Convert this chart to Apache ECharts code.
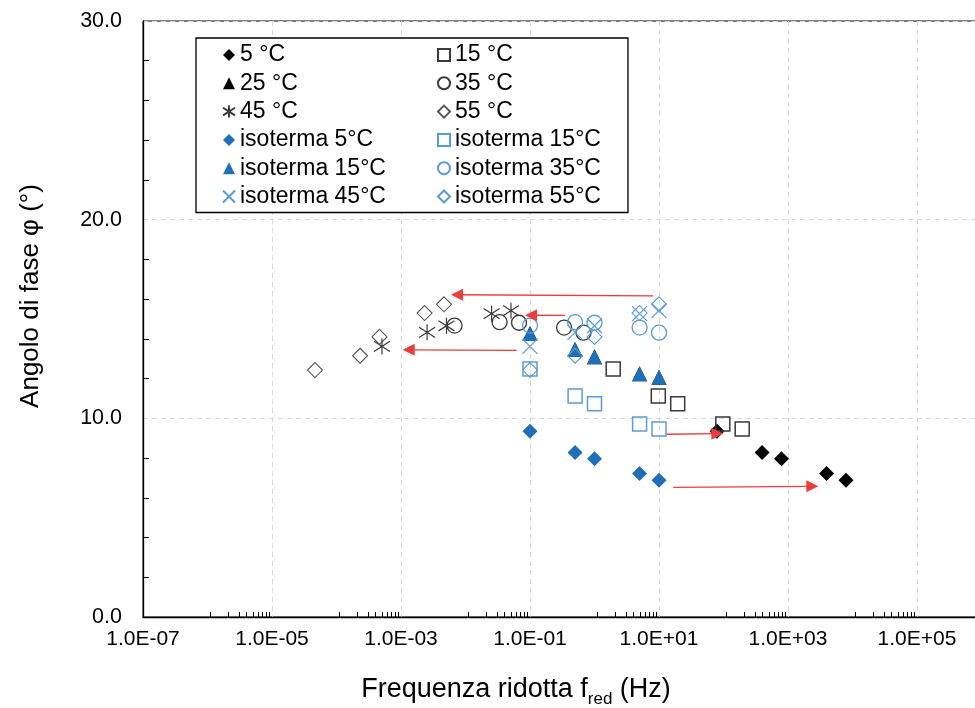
<!DOCTYPE html>
<html><head><meta charset="utf-8">
<script src="https://cdn.jsdelivr.net/npm/echarts@6/dist/echarts.min.js"></script>
<style>html,body{margin:0;padding:0;background:#fff}#c{width:975px;height:708px}</style>
</head><body><div id="c"></div>
<script>
const FONT = '"Liberation Sans", Arial, sans-serif';

// Isotherm test frequencies (Hz)
const isoFreq = [0.1, 0.5, 1, 5, 10];
// Reduced frequencies (master curve), Hz
const fred5  = [79.3, 396, 793, 3965, 7930];
const fred15 = [1.95, 9.75, 19.5, 97.5, 195];
const fred25 = [0.1, 0.5, 1, 5, 10];
const fred35 = [0.00676, 0.0338, 0.0676, 0.338, 0.676];
const fred45 = [0.000507, 0.00254, 0.00507, 0.0254, 0.0507];
const fred55 = [0.0000464, 0.000232, 0.000464, 0.00232, 0.00464];
// Phase angle (deg)
const phase5  = [9.35, 8.28, 7.97, 7.22, 6.88];
const phase15 = [12.48, 11.12, 10.74, 9.72, 9.46];
const phase25 = [14.27, 13.46, 13.10, 12.24, 12.07];
const phase35 = [14.67, 14.84, 14.81, 14.57, 14.31];
const phase45 = [13.62, 14.33, 14.66, 15.27, 15.42];
const phase55 = [12.43, 13.15, 14.10, 15.30, 15.74];

// Shift arrows [from, to] in data units
const arrows = [
  [[8.07, 16.16], [0.00738, 16.22]],
  [[0.349, 15.18], [0.1038, 15.19]],
  [[0.0622, 13.42], [0.001315, 13.45]],
  [[13.2, 9.20], [80.2, 9.23]],
  [[16.7, 6.52], [2383, 6.58]]
];

const yTicks = [0, 10, 20, 30];

const BLUE = '#1f6fb8';
const LBLUE = '#5b9bd5';
const DARK = '#3a3a3a';
const ASTER = 'path://M5,0L5,10M0,1.8L10,8.2M0,8.2L10,1.8';
const XMARK = 'path://M0,0L10,10M10,0L0,10';

function sc(name, xs, ys, symbol, size, itemStyle) {
  return {
    type: 'scatter', name, symbol, symbolSize: size, itemStyle,
    data: xs.map((x, i) => [x, ys[i]]),
    emphasis: { disabled: true }, silent: true
  };
}
const filled = c => ({ color: c, borderWidth: 0, opacity: 1 });
const open = (c, w) => ({ color: 'transparent', borderColor: c, borderWidth: w, opacity: 1 });

const series = [
  sc('5 °C', fred5, phase5, 'diamond', 15, filled('#000')),
  sc('15 °C', fred15, phase15, 'rect', 14, open(DARK, 1.5)),
  sc('25 °C', fred25, phase25, 'triangle', 15, filled('#000')),
  sc('35 °C', fred35, phase35, 'circle', 15, open(DARK, 1.3)),
  sc('45 °C', fred45, phase45, ASTER, 16, open(DARK, 1.2)),
  sc('55 °C', fred55, phase55, 'diamond', 15, open('#555', 1.1)),
  sc('isoterma 5°C', isoFreq, phase5, 'diamond', 15, filled(BLUE)),
  sc('isoterma 15°C', isoFreq, phase15, 'rect', 14, open(LBLUE, 1.5)),
  sc('isoterma 15°C\u200b', isoFreq, phase25, 'triangle', 15, filled(BLUE)),
  sc('isoterma 35°C', isoFreq, phase35, 'circle', 15, open(LBLUE, 1.3)),
  sc('isoterma 45°C', isoFreq, phase45, XMARK, 15, open(LBLUE, 1.2)),
  sc('isoterma 55°C', isoFreq, phase55, 'diamond', 15, open(LBLUE, 1.1)),
  {
    type: 'lines', coordinateSystem: 'cartesian2d', silent: true, z: 5,
    symbol: ['none', 'triangle'], symbolSize: [9, 12],
    lineStyle: { color: '#ee3b3b', width: 1.3, opacity: 1, curveness: 0 },
    data: arrows.map(a => ({ coords: a }))
  }
];

const legendCommon = {
  orient: 'vertical', selectedMode: false,
  itemWidth: 12, itemHeight: 12, itemGap: 5.3, itemTextGap: 6,
  textStyle: { fontSize: 23, lineHeight: 23, color: '#000', fontFamily: FONT },
  formatter: n => n.replace('\u200b', '')
};

const option = {
  backgroundColor: '#fff',
  animation: false,
  textStyle: { fontFamily: FONT },
  grid: { left: 143, top: 21, bottom: 91, right: -71, containLabel: false, outerBoundsMode: 'none',
          show: true, borderColor: '#000', borderWidth: 1, backgroundColor: 'transparent' },
  legend: [
    Object.assign({}, legendCommon, {
      left: 196, top: 38, padding: [5.5, 242, 4.5, 26],
      borderColor: '#000', borderWidth: 1.3, backgroundColor: '#fff',
      data: ['5 °C', '25 °C', '45 °C', 'isoterma 5°C', 'isoterma 15°C\u200b', 'isoterma 45°C']
    }),
    Object.assign({}, legendCommon, {
      left: 437, top: 43.5, padding: 0, z: 5,
      data: ['15 °C', '35 °C', '55 °C', 'isoterma 15°C', 'isoterma 35°C', 'isoterma 55°C']
    })
  ],
  xAxis: {
    type: 'log', logBase: 10, min: 1e-7, max: 1e7, interval: 2,
    name: '{m|Frequenza ridotta f}{s|red}{m| (Hz)}',
    nameLocation: 'middle', nameGap: 55,
    nameTextStyle: {
      padding: [0, 157, 0, 0],
      rich: {
        m: { fontSize: 27, lineHeight: 36, color: '#000', fontFamily: FONT, verticalAlign: 'middle' },
        s: { fontSize: 17, lineHeight: 17, color: '#000', fontFamily: FONT, verticalAlign: 'bottom' }
      }
    },
    axisLine: { show: true, onZero: false, lineStyle: { color: '#000', width: 1.3 } },
    axisTick: { show: false, inside: true },
    minorTick: { show: true, splitNumber: 10, length: 5, lineStyle: { color: '#000', width: 1 } },
    axisLabel: {
      fontSize: 21, color: '#000', fontFamily: FONT, margin: 12,
      formatter: v => {
        const e = Math.round(Math.log10(v));
        return '1.0E' + (e < 0 ? '-' : '+') + String(Math.abs(e)).padStart(2, '0');
      }
    },
    splitLine: { show: true, lineStyle: { color: '#d9d9d9', type: [5, 4], width: 1 } },
    minorSplitLine: { show: false }
  },
  yAxis: {
    type: 'value', min: yTicks[0], max: yTicks[yTicks.length - 1], interval: 10,
    name: 'Angolo di fase φ (°)', nameLocation: 'middle', nameGap: 99,
    nameTextStyle: { fontSize: 26, color: '#000', fontFamily: FONT, padding: [0, 0, 0, 46] },
    axisLine: { show: true, lineStyle: { color: '#000', width: 1.3 } },
    axisTick: { show: false, inside: true },
    minorTick: { show: true, splitNumber: 5, length: 6, lineStyle: { color: '#000', width: 1 } },
    axisLabel: { fontSize: 21.5, color: '#000', fontFamily: FONT, margin: 21, formatter: v => v.toFixed(1) },
    splitLine: { show: true, lineStyle: { color: '#d9d9d9', type: [5, 4], width: 1 } }
  },
  series
};

const chart = echarts.init(document.getElementById('c'), null, { renderer: 'canvas' });
chart.setOption(option);
</script>
</body></html>
